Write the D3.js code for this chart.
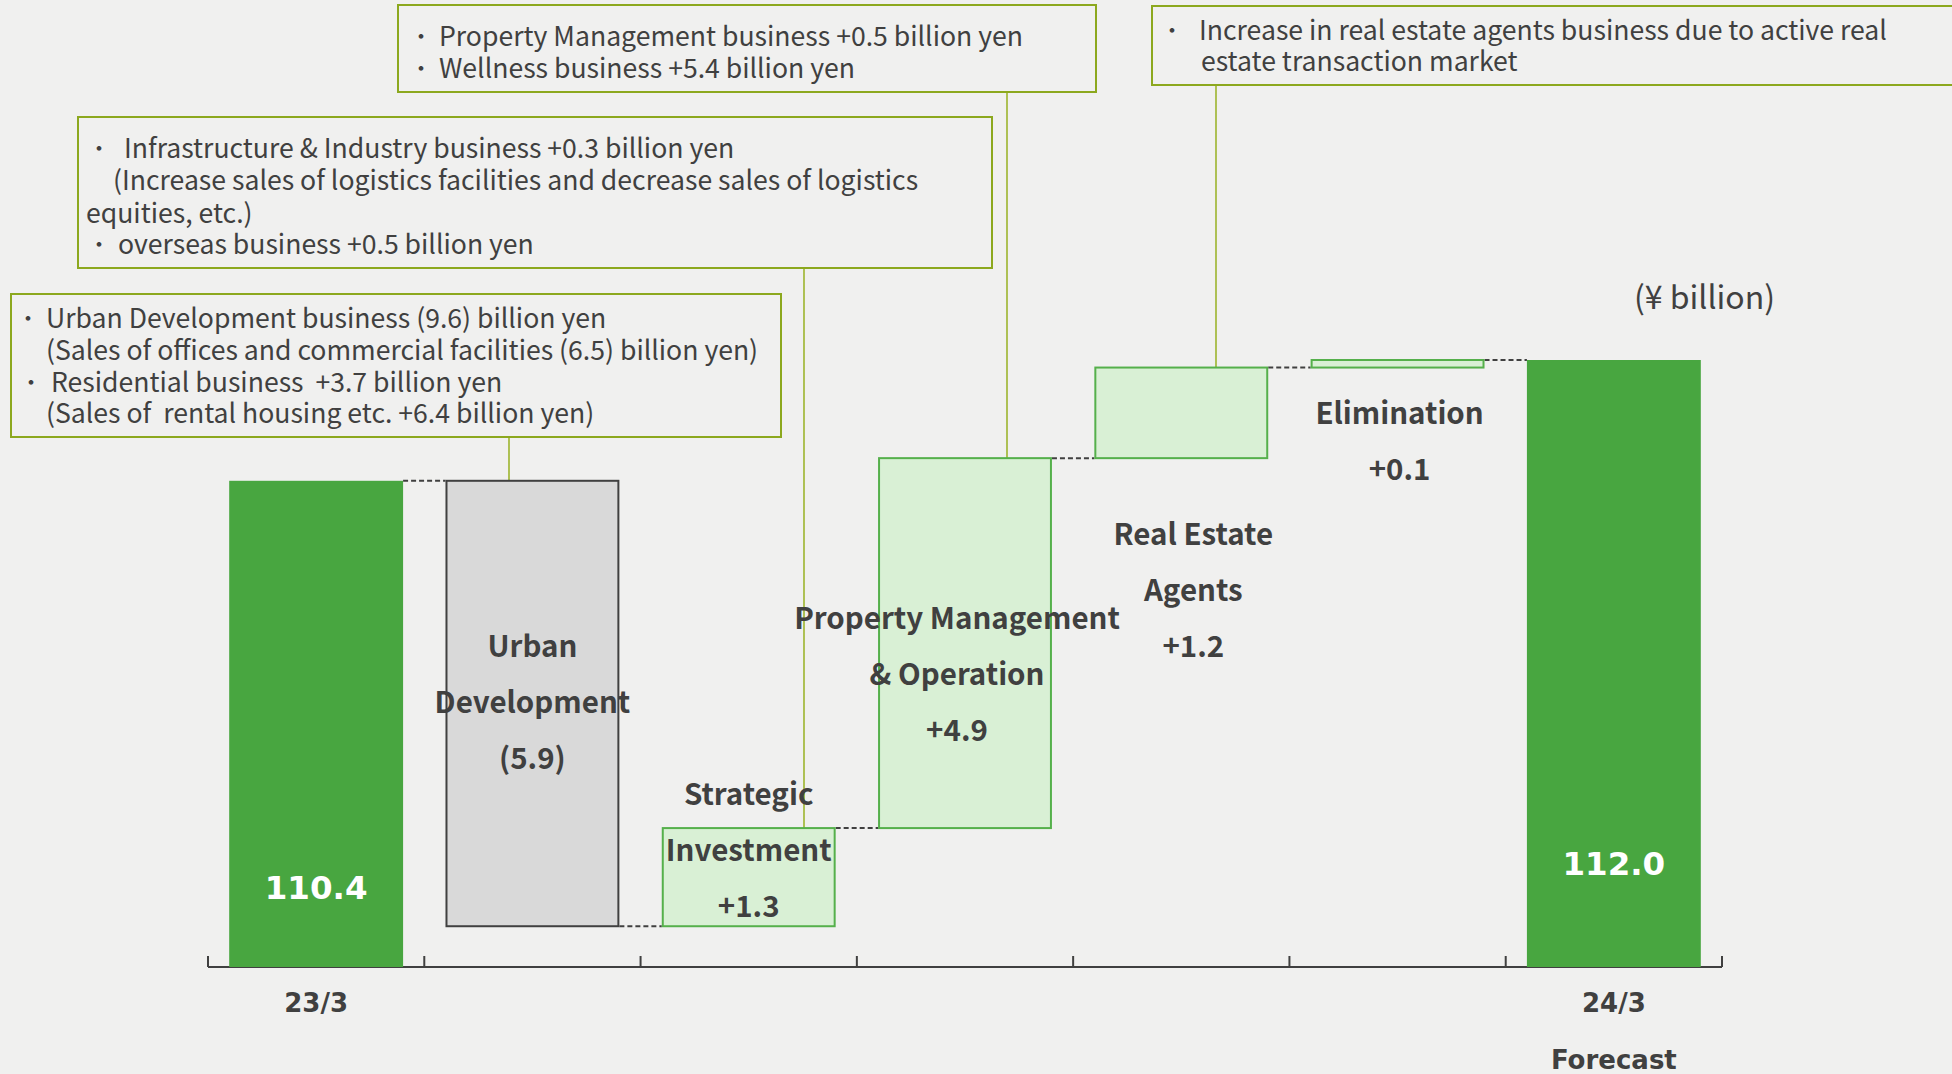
<!DOCTYPE html>
<html>
<head>
<meta charset="utf-8">
<script src="https://cdn.jsdelivr.net/npm/d3@7"></script>
<style>
  body { margin: 0; background: #f0f0ef; }
  svg { display: block; font-family: "Noto Sans CJK JP", "Noto Sans", sans-serif; }
</style>
</head>
<body>
<div id="chart"></div>
<script>
// ---- chart data (¥ billion) ----
const categories = ["23/3", "Urban Development", "Strategic Investment",
  "Property Management & Operation", "Real Estate Agents", "Elimination", "24/3 Forecast"];
const startValue = 110.4;
const changes = [-5.9, 1.3, 4.9, 1.2, 0.1];
const endValue = 112.0;
const startLabel = "110.4";
const endLabel = "112.0";
const xTickLabels = [["23/3"], [], [], [], [], [], ["24/3", "Forecast"]];
const changeLabels = [
  ["Urban", "Development", "(5.9)"],
  ["Strategic", "Investment", "+1.3"],
  ["Property Management", "& Operation", "+4.9"],
  ["Real Estate", "Agents", "+1.2"],
  ["Elimination", "+0.1"]
];
const unitLabel = "(¥ billion)";

// call-out notes, one per change bar that has one
const notes = [
  { bar: 1, lines: ["・Urban Development business (9.6) billion yen",
                    "(Sales of offices and commercial facilities (6.5) billion yen)",
                    "・Residential business  +3.7 billion yen",
                    "(Sales of  rental housing etc. +6.4 billion yen)"] },
  { bar: 2, lines: ["・Infrastructure & Industry business +0.3 billion yen",
                    "(Increase sales of logistics facilities and decrease sales of logistics",
                    "equities, etc.)",
                    "・overseas business +0.5 billion yen"] },
  { bar: 3, lines: ["・Property Management business +0.5 billion yen",
                    "・Wellness business +5.4 billion yen"] },
  { bar: 4, lines: ["・Increase in real estate agents business due to active real",
                    "estate transaction market"] }
];

// ---- layout ----
const W = 1952, H = 1074;
const axisY = 967, plotLeft = 208, plotRight = 1722;
const green = "#48a640", lightGreen = "#d9f0d5", lineGreen = "#55b04b";
const grey = "#d9d9d9", dark = "#404040", olive = "#8ca81e";

// note box geometry: box [x0,y0,x1,y1], line centres, bullet x, text x per line, leader x
const noteLayout = [
  { box: [11, 294, 781, 437], ys: [316, 348, 380, 411], bx: [28, null, 31, null], tx: [46, 46, 51, 46], lx: 509 },
  { box: [78, 117, 992, 268], ys: [146, 178, 211, 242], bx: [99, null, null, 99], tx: [124, 113, 86, 118], lx: 804 },
  { box: [398, 5, 1096, 92], ys: [34, 66], bx: [421, 421], tx: [439, 439], lx: 1007 },
  { box: [1152, 6, 1962, 85], ys: [28, 59], bx: [1172, null], tx: [1199, 1201], lx: 1216 }
];
// first-line centre of each change label, relative to band centre / pixels
const changeLabelPos = [
  { dx: 0, y: 644 }, { dx: 0, y: 792 }, { dx: -8, y: 616 }, { dx: 12, y: 532 }, { dx: 2, y: 411 }
];
const labelStep = 56;

// ---- waterfall steps ----
const steps = [];
steps.push({ cat: categories[0], y0: null, y1: startValue, type: "total" });
let run = startValue;
changes.forEach((c, i) => {
  const next = Math.round((run + c) * 10) / 10;
  steps.push({ cat: categories[i + 1], y0: run, y1: next, type: c < 0 ? "down" : "up" });
  run = next;
});
steps.push({ cat: categories[6], y0: null, y1: endValue, type: "total" });

const svg = d3.select("#chart").append("svg")
  .attr("width", W).attr("height", H);
svg.append("rect").attr("width", W).attr("height", H).attr("fill", "#f0f0ef");

const x = d3.scaleBand().domain(categories)
  .range([plotLeft, plotRight]).paddingInner(0.196).paddingOuter(0.098);
const y = d3.scaleLinear().domain([103.96, 112.0]).range([axisY, 360]);
const step = x.step();
const edge = d => x(d) - (step - x.bandwidth()) / 2;

// axis: baseline with upward ticks at band edges
const axisG = svg.append("g");
axisG.append("line")
  .attr("x1", plotLeft).attr("x2", plotRight)
  .attr("y1", axisY).attr("y2", axisY)
  .attr("stroke", dark).attr("stroke-width", 2);
const tickXs = categories.map(edge).concat([plotRight]);
axisG.selectAll("line.tick").data(tickXs).enter().append("line")
  .attr("class", "tick")
  .attr("x1", d => d).attr("x2", d => d)
  .attr("y1", axisY).attr("y2", axisY - 11)
  .attr("stroke", dark).attr("stroke-width", 2);

// leader lines and note boxes (drawn under the bars)
notes.forEach((n, i) => {
  const L = noteLayout[i];
  const s = steps[n.bar];
  const top = y(Math.max(s.y0, s.y1));
  svg.append("line")
    .attr("x1", L.lx).attr("x2", L.lx)
    .attr("y1", L.box[3]).attr("y2", top)
    .attr("stroke", "#9db52e").attr("stroke-width", 1.6);
  svg.append("rect")
    .attr("x", L.box[0]).attr("y", L.box[1])
    .attr("width", L.box[2] - L.box[0]).attr("height", L.box[3] - L.box[1])
    .attr("fill", "#f0f0ef").attr("stroke", olive).attr("stroke-width", 2);
  const g = svg.append("g").attr("fill", dark).style("font-size", "26.6px");
  n.lines.forEach((t, j) => {
    const hasBullet = t.startsWith("・");
    if (hasBullet) {
      g.append("text").attr("x", L.bx[j]).attr("y", L.ys[j])
        .attr("text-anchor", "middle").attr("dominant-baseline", "central")
        .style("font-size", "22px").text("・");
    }
    g.append("text").attr("x", L.tx[j]).attr("y", L.ys[j])
      .attr("dominant-baseline", "central")
      .attr("xml:space", "preserve").style("white-space", "pre")
      .text(hasBullet ? t.slice(1) : t);
  });
});

// dashed connectors between consecutive bars
for (let i = 0; i < steps.length - 1; i++) {
  const level = steps[i].y1;
  svg.append("line")
    .attr("x1", x(steps[i].cat) + x.bandwidth()).attr("x2", x(steps[i + 1].cat))
    .attr("y1", y(level)).attr("y2", y(level))
    .attr("stroke", dark).attr("stroke-width", 2).attr("stroke-dasharray", "5,3");
}

// bars
svg.selectAll("rect.bar").data(steps).enter().append("rect")
  .attr("class", "bar")
  .attr("x", d => x(d.cat) + (d.type === "total" ? 0 : 1))
  .attr("width", d => x.bandwidth() - (d.type === "total" ? 0 : 2))
  .attr("y", d => d.type === "total" ? y(d.y1) : y(Math.max(d.y0, d.y1)))
  .attr("height", d => d.type === "total" ? axisY - y(d.y1) : Math.abs(y(d.y0) - y(d.y1)))
  .attr("fill", d => d.type === "total" ? green : d.type === "down" ? grey : lightGreen)
  .attr("stroke", d => d.type === "total" ? "none" : d.type === "down" ? dark : lineGreen)
  .attr("stroke-width", 2);

// totals' values in white
[[0, startLabel, 888], [6, endLabel, 864]].forEach(([i, t, ty]) => {
  svg.append("text")
    .attr("x", x(categories[i]) + x.bandwidth() / 2).attr("y", ty)
    .attr("text-anchor", "middle").attr("dominant-baseline", "central")
    .attr("fill", "#fff").style("font-family", "'DejaVu Sans', Verdana, sans-serif")
    .style("font-weight", "bold").style("font-size", "32.5px").text(t);
});

// change labels
changeLabels.forEach((lines, i) => {
  const cx = x(categories[i + 1]) + x.bandwidth() / 2 + changeLabelPos[i].dx;
  lines.forEach((t, j) => {
    svg.append("text")
      .attr("x", cx).attr("y", changeLabelPos[i].y + j * labelStep)
      .attr("text-anchor", "middle").attr("dominant-baseline", "central")
      .attr("fill", dark).style("font-weight", "bold").style("font-size", "29.5px")
      .text(t);
  });
});

// category tick labels
xTickLabels.forEach((lines, i) => {
  lines.forEach((t, j) => {
    svg.append("text")
      .attr("x", x(categories[i]) + x.bandwidth() / 2).attr("y", 1003 + j * 57)
      .attr("text-anchor", "middle").attr("dominant-baseline", "central")
      .attr("fill", dark).style("font-family", "'DejaVu Sans', Verdana, sans-serif")
      .style("font-weight", "bold").style("font-size", "26px").text(t);
  });
});

// unit
svg.append("text")
  .attr("x", 1775).attr("y", 295)
  .attr("text-anchor", "end").attr("dominant-baseline", "central")
  .attr("fill", dark).style("font-size", "32px").text(unitLabel);
</script>
</body>
</html>
